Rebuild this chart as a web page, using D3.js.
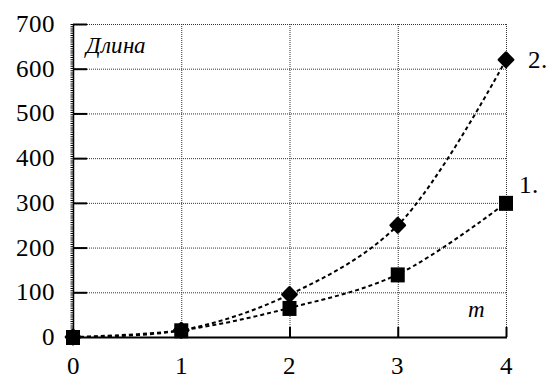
<!DOCTYPE html>
<html>
<head>
<meta charset="utf-8">
<script src="https://cdn.jsdelivr.net/npm/d3@7"></script>
<style>
  @font-face { font-family: "ChartSerif"; font-style: normal;
    src: local("Liberation Serif"), local("LiberationSerif"), local("Tinos"), local("Times New Roman"); }
  @font-face { font-family: "ChartSerif"; font-style: italic;
    src: local("Liberation Serif Italic"), local("LiberationSerif-Italic"), local("Tinos Italic"); }
  #chart text { font-family: "ChartSerif", "Liberation Serif", serif; }
</style>
</head>
<body style="margin:0">
<svg id="chart" width="548" height="378"></svg>
<script>
// Data
const xValues = [0, 1, 2, 3, 4];
const series1 = [0, 15, 65, 140, 300];   // squares, "1."
const series2 = [0, 15, 95, 250, 620];   // diamonds, "2."
const yTicks = [0, 100, 200, 300, 400, 500, 600, 700];
const xTicks = [0, 1, 2, 3, 4];
const seriesLabels = ["1.", "2."];
const yTitle = "Длина";
const xTitle = "m";

const svg = d3.select("#chart");
const plotLeft = 73, plotRight = 506, plotTop = 24, plotBottom = 337;

const x = d3.scaleLinear().domain([0, 4]).range([plotLeft, plotRight]);
const y = d3.scaleLinear().domain([0, 700]).range([plotBottom, plotTop]);

// Dotted grid (includes top and right border)
const grid = svg.append("g")
  .attr("stroke", "#333").attr("stroke-width", 1).attr("stroke-dasharray", "1,1");
grid.selectAll("line.h").data(yTicks.filter(d => d > 0)).join("line")
  .attr("class", "h")
  .attr("x1", plotLeft).attr("x2", plotRight)
  .attr("y1", d => y(d) + 0.5).attr("y2", d => y(d) + 0.5);
grid.selectAll("line.v").data(xTicks.filter(d => d > 0)).join("line")
  .attr("class", "v")
  .attr("x1", d => x(d) + 0.5).attr("x2", d => x(d) + 0.5)
  .attr("y1", plotTop).attr("y2", plotBottom);

// Left axis: solid line with fine minor ticks
svg.append("line")
  .attr("x1", plotLeft - 1).attr("x2", plotLeft - 1).attr("y1", plotTop).attr("y2", plotBottom)
  .attr("stroke", "#000").attr("stroke-width", 3).attr("stroke-dasharray", "1,1.2");
svg.append("line")
  .attr("x1", plotLeft + 0.5).attr("x2", plotLeft + 0.5).attr("y1", plotTop).attr("y2", plotBottom)
  .attr("stroke", "#000").attr("stroke-width", 1.5);

// Bottom axis
svg.append("line")
  .attr("x1", plotLeft).attr("x2", plotRight + 1).attr("y1", plotBottom + 0.5).attr("y2", plotBottom + 0.5)
  .attr("stroke", "#000").attr("stroke-width", 2);

// Major y ticks pointing inward
svg.append("g").selectAll("line").data(yTicks.filter(d => d > 0)).join("line")
  .attr("x1", plotLeft).attr("x2", plotLeft + 14)
  .attr("y1", d => y(d) + 0.5).attr("y2", d => y(d) + 0.5)
  .attr("stroke", "#000").attr("stroke-width", 2);

// Major x ticks pointing upward
svg.append("g").selectAll("line").data(xTicks.filter(d => d > 0)).join("line")
  .attr("x1", d => x(d) + 0.5).attr("x2", d => x(d) + 0.5)
  .attr("y1", plotBottom).attr("y2", plotBottom - 10)
  .attr("stroke", "#000").attr("stroke-width", 2);

// Tick labels
svg.append("g").selectAll("text").data(yTicks).join("text")
  .attr("x", 55).attr("y", d => y(d) + 8)
  .attr("text-anchor", "end").attr("font-size", 25)
  .text(d => d);
svg.append("g").selectAll("text").data(xTicks).join("text")
  .attr("x", d => x(d)).attr("y", 374)
  .attr("text-anchor", "middle").attr("font-size", 25)
  .text(d => d);

// Curves
const line = d3.line()
  .x((d, i) => x(xValues[i])).y(d => y(d))
  .curve(d3.curveCatmullRom.alpha(0.5));
[series1, series2].forEach(s => {
  svg.append("path").attr("d", line(s))
    .attr("fill", "none").attr("stroke", "#000")
    .attr("stroke-width", 2).attr("stroke-dasharray", "4,3");
});

// Markers: rounded diamonds for series 2
const diamond = d3.symbol().type(d3.symbolDiamond2).size(120);
svg.append("g").selectAll("path").data(series2).join("path")
  .attr("d", diamond)
  .attr("transform", (d, i) => `translate(${x(xValues[i])},${y(d)})`)
  .attr("fill", "#000").attr("stroke", "#000")
  .attr("stroke-width", 3).attr("stroke-linejoin", "round");

// Markers: squares for series 1
svg.append("g").selectAll("rect").data(series1).join("rect")
  .attr("x", (d, i) => x(xValues[i]) - 7).attr("y", d => y(d) - 7)
  .attr("width", 14).attr("height", 15).attr("fill", "#000");

// Series labels
svg.append("text").attr("x", 528).attr("y", 68)
  .attr("font-size", 25).text(seriesLabels[1]);
svg.append("text").attr("x", 519).attr("y", 193)
  .attr("font-size", 25).text(seriesLabels[0]);

// Axis titles
svg.append("text").attr("x", 86).attr("y", 53)
  .attr("font-size", 23).attr("font-style", "italic").text(yTitle);
svg.append("text").attr("x", 468).attr("y", 317)
  .attr("font-size", 23).attr("font-style", "italic").text(xTitle);
</script>
</body>
</html>
